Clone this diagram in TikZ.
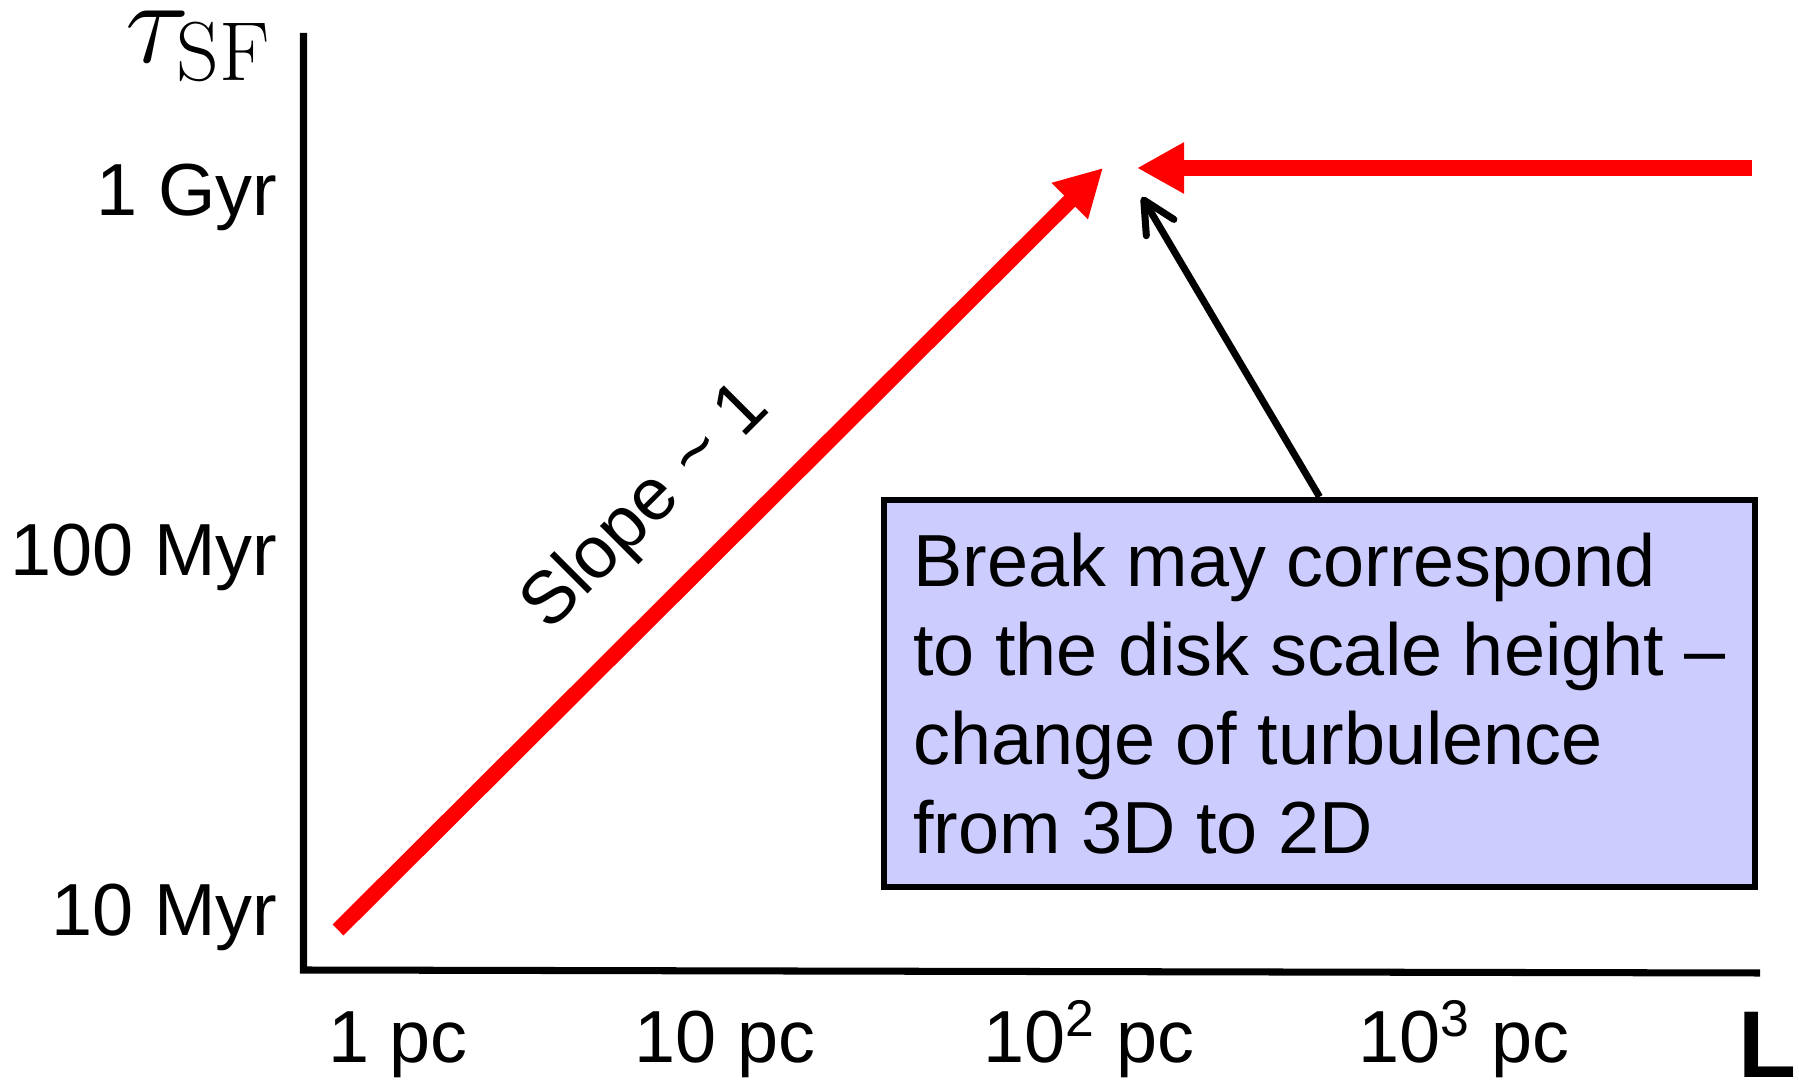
\RequirePackage{fix-cm}
\documentclass[tikz,border=0pt]{standalone}
\usepackage{fontspec}
\newfontfamily\arialfont{Liberation Sans}
\usetikzlibrary{arrows.meta}
\definecolor{breakfill}{RGB}{204,204,255}

\begin{document}
\begin{tikzpicture}[
    lbl/.style={inner sep=0pt, font=\arialfont\fontsize{21}{25.3}\selectfont},
    trend/.style={red, line width=4.4pt, -{Triangle[length=4.7mm,width=4.8mm]}},
    axis/.style={line width=2pt}]
    \useasboundingbox (0,0) rectangle (17.99,10.80);

    % axes
    \coordinate (origin) at (3.035,1.10);
    \coordinate (ytop) at (3.035,10.47);
    \coordinate (xend) at (17.60,1.07);
    \draw [axis] (ytop) -- (origin) -- (xend);
    \node [anchor=base west, inner sep=0pt, font=\fontsize{34}{40}\selectfont, name=tsf] at (1.25,10.17) {$\tau_{\mathrm{SF}}$};
    \node [anchor=base, inner sep=0pt, font=\arialfont\bfseries\fontsize{27}{30}\selectfont, name=lax] at (17.67,0.03) {L};

    % y ticks
    \node [lbl, anchor=base east, name=gyr] at (2.78,8.64) {1 Gyr};
    \node [lbl, anchor=base east, name=myr100] at (2.78,5.04) {100 Myr};
    \node [lbl, anchor=base east, name=myr10] at (2.78,1.44) {10 Myr};

    % x ticks
    \node [lbl, anchor=base, name=pc1] at (3.98,0.17) {1 pc};
    \node [lbl, anchor=base, name=pc10] at (7.25,0.17) {10 pc};
    \node [lbl, anchor=base, name=pc100] at (10.89,0.17) {10\textsuperscript{2} pc};
    \node [lbl, anchor=base, name=pc1000] at (14.64,0.17) {10\textsuperscript{3} pc};

    % red trends
    \coordinate (lo) at (3.38,1.50);
    \coordinate (hi) at (11.03,9.12);
    \coordinate (flat) at (17.52,9.12);
    \coordinate (brk) at (11.37,9.12);
    \draw [trend] (lo) -- (hi);
    \draw [trend] (flat) -- (brk);
    \node [lbl, rotate=45, name=slope] at (6.47,5.72) {Slope \textasciitilde{} 1};

    % note on the break
    \node [lbl, draw, line width=1.8pt, fill=breakfill, minimum width=8.71cm, minimum height=3.87cm, align=left, name=note] at (13.195,3.865) {Break may correspond\\to the disk scale height \textendash\hspace*{0.16cm}\\change of turbulence\\from 3D to 2D};
    \coordinate (tip) at (11.42,8.83);
    \draw [line width=2pt, -{Straight Barb[length=3.2mm,width=3.2mm,round]}] (note.north) -- (tip);
\end{tikzpicture}
\end{document}
